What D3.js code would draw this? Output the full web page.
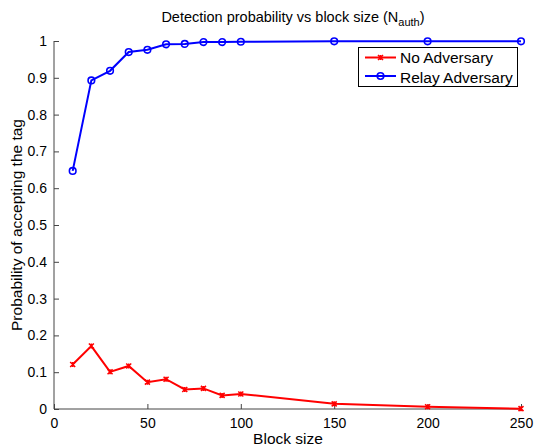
<!DOCTYPE html>
<meta charset="utf-8">
<head>
<script src="https://d3js.org/d3.v7.min.js"></script>
<style>
  body { margin: 0; background: #fff; }
  text { font-family: "Liberation Sans", Arial, sans-serif; }
</style>
</head>
<body>
<div id="chart"></div>
<script>
// data
var blockSize   = [10, 20, 30, 40, 50, 60, 70, 80, 90, 100, 150, 200, 250];
var noAdversary = [0.121, 0.171, 0.101, 0.117, 0.073, 0.081, 0.053, 0.056, 0.037, 0.041, 0.014, 0.006, 0.001];
var relayAdv    = [0.647, 0.893, 0.919, 0.970, 0.976, 0.991, 0.992, 0.997, 0.997, 0.998, 0.999, 0.999, 0.999];
var xTicks = [0, 50, 100, 150, 200, 250];
var yTicks = [0, 0.1, 0.2, 0.3, 0.4, 0.5, 0.6, 0.7, 0.8, 0.9, 1];

var W = 535, H = 447;
var margin = {top: 41, right: 14, bottom: 38, left: 54};
var width = W - margin.left - margin.right,
    height = H - margin.top - margin.bottom;

var svg = d3.select("#chart").append("svg")
    .attr("width", W).attr("height", H);
var g = svg.append("g")
    .attr("transform", "translate(" + margin.left + "," + margin.top + ")");

var x = d3.scaleLinear().domain([0, 250]).range([0, width]);
var y = d3.scaleLinear().domain([0, 1]).range([height, 0]);

// axes (ticks point inward, like matlab)
var xAxis = g.append("g")
    .attr("transform", "translate(0," + height + ")")
    .call(d3.axisBottom(x).tickValues(xTicks).tickSize(-5).tickPadding(9).tickFormat(d3.format("d")));
var yAxis = g.append("g")
    .call(d3.axisLeft(y).tickValues(yTicks).tickSize(-5).tickPadding(7).tickFormat(function(d) { return d === 0 || d === 1 ? d : d3.format(".1f")(d); }));

[xAxis, yAxis].forEach(function(a) {
  a.select(".domain").attr("stroke", "#444").attr("stroke-width", 1);
  a.selectAll(".tick line").attr("stroke", "#444");
  a.selectAll(".tick text").attr("font-size", 14).attr("fill", "#000")
    .style("font-family", "'Liberation Sans', Arial, sans-serif");
});
// matlab style axis: remove outer tick stubs
xAxis.select(".domain").attr("d", "M0,0H" + width);
yAxis.select(".domain").attr("d", "M0," + height + "V0");

var line = function(vals) {
  return d3.line()
    .x(function(d, i) { return x(blockSize[i]); })
    .y(function(d) { return y(d); })(vals);
};

// red series
g.append("path").attr("d", line(noAdversary))
  .attr("fill", "none").attr("stroke", "#ff0000").attr("stroke-width", 2);
function star(sel, cx, cy, s, color) {
  var p = "M" + (cx - s) + "," + (cy - s) + "L" + (cx + s) + "," + (cy + s) +
          "M" + (cx - s) + "," + (cy + s) + "L" + (cx + s) + "," + (cy - s) +
          "M" + cx + "," + (cy - s) + "L" + cx + "," + (cy + s);
  sel.append("path").attr("d", p).attr("stroke", color).attr("stroke-width", 1.5).attr("fill", "none");
}
noAdversary.forEach(function(d, i) { star(g, x(blockSize[i]), y(d), 2.5, "#ff0000"); });

// blue series
g.append("path").attr("d", line(relayAdv))
  .attr("fill", "none").attr("stroke", "#0000ff").attr("stroke-width", 2);
g.selectAll(".bc").data(relayAdv).enter().append("circle")
  .attr("cx", function(d, i) { return x(blockSize[i]); })
  .attr("cy", function(d) { return y(d); })
  .attr("r", 3.3)
  .attr("fill", "none").attr("stroke", "#0000ff").attr("stroke-width", 1.6);

// title
var title = svg.append("text")
  .attr("x", 293).attr("y", 22)
  .attr("text-anchor", "middle").attr("font-size", 14.5)
  .text("Detection probability vs block size (N");
title.append("tspan").attr("dy", 4).attr("font-size", 11).text("auth");
title.append("tspan").attr("dy", -4).text(")");

// axis labels
svg.append("text")
  .attr("x", 288).attr("y", 444)
  .attr("text-anchor", "middle").attr("font-size", 15.5)
  .text("Block size");
svg.append("text")
  .attr("transform", "translate(22," + (margin.top + height / 2) + ") rotate(-90)")
  .attr("text-anchor", "middle").attr("font-size", 15.5)
  .text("Probability of accepting the tag");

// legend
var leg = svg.append("g");
leg.append("rect").attr("x", 358.5).attr("y", 47.5).attr("width", 159).attr("height", 39)
  .attr("fill", "#fff").attr("stroke", "#000").attr("stroke-width", 1);
leg.append("line").attr("x1", 365).attr("x2", 396).attr("y1", 57.5).attr("y2", 57.5)
  .attr("stroke", "#ff0000").attr("stroke-width", 2);
star(leg, 380.5, 57.5, 2.5, "#ff0000");
leg.append("text").attr("x", 400).attr("y", 63).attr("font-size", 15.5).text("No Adversary");
leg.append("line").attr("x1", 365).attr("x2", 396).attr("y1", 76).attr("y2", 76)
  .attr("stroke", "#0000ff").attr("stroke-width", 2);
leg.append("circle").attr("cx", 380.5).attr("cy", 76).attr("r", 3.3)
  .attr("fill", "none").attr("stroke", "#0000ff").attr("stroke-width", 1.6);
leg.append("text").attr("x", 400).attr("y", 82.5).attr("font-size", 15.5).text("Relay Adversary");
</script>
</body>
